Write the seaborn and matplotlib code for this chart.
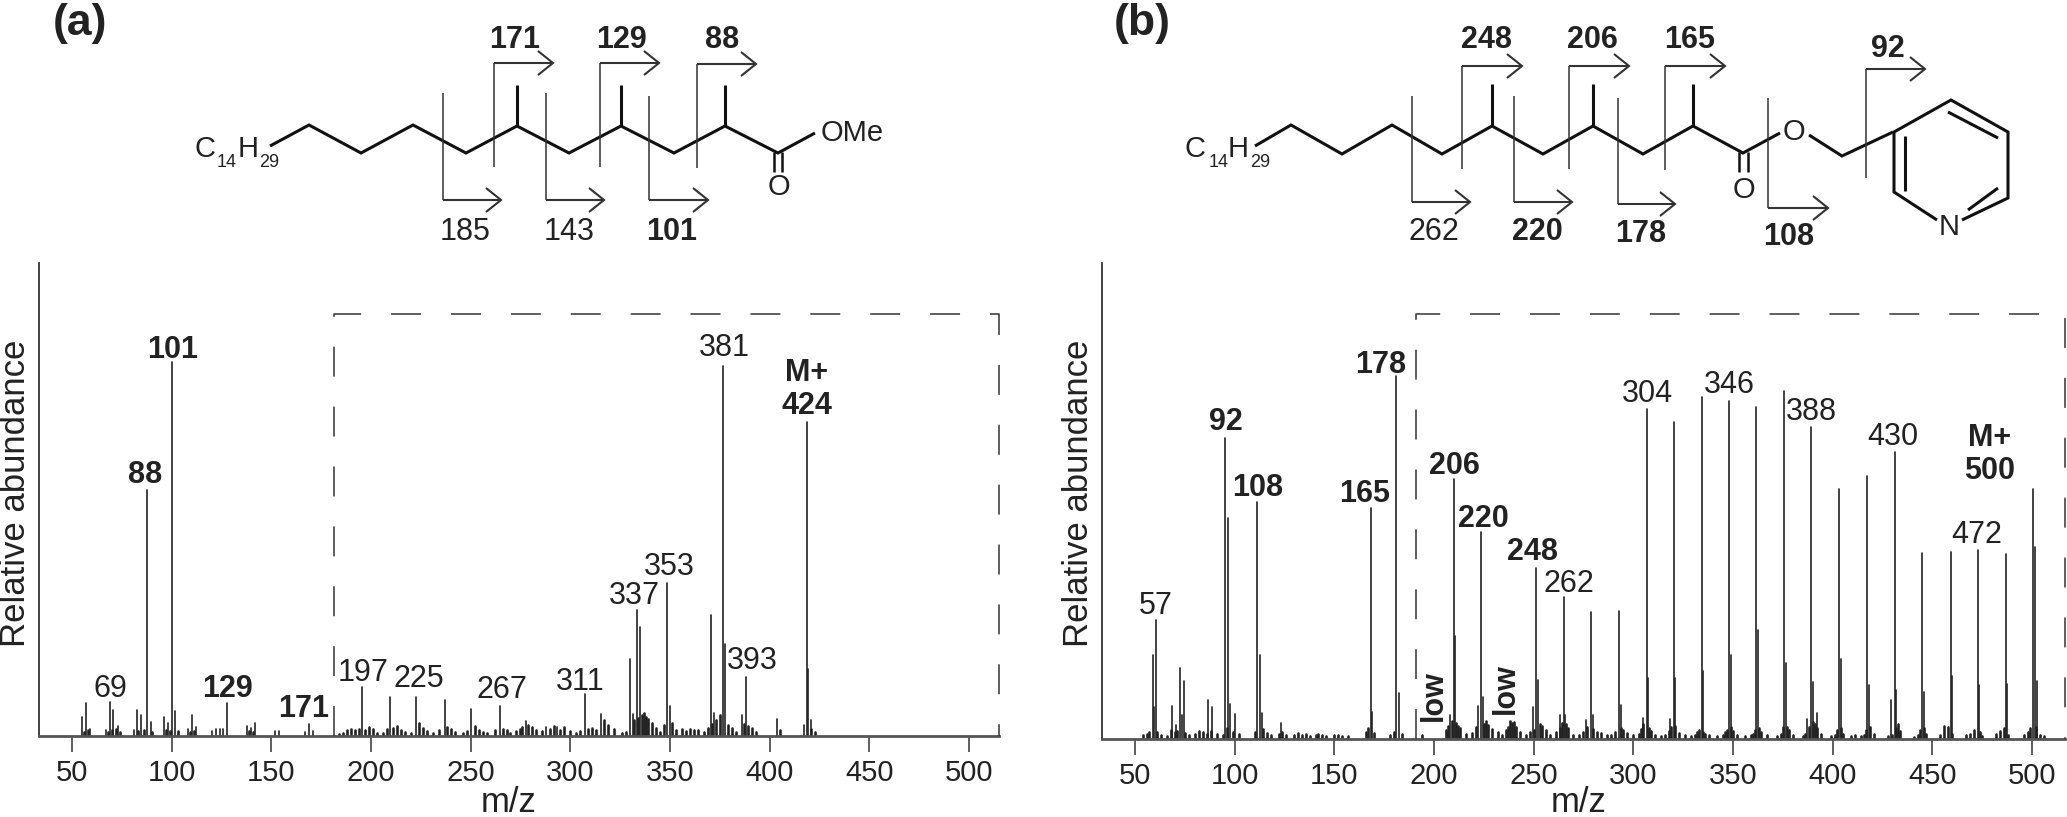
import pandas as pd
import matplotlib.pyplot as plt
import seaborn as sns

# ==================== data (a) ====================
TICKS = [50, 100, 150, 200, 250, 300, 350, 400, 450, 500]

a_mz = [55.2, 57.1, 59, 67.3, 69, 70.8, 73, 81, 82.7, 84.6, 87.8, 89.7, 96.4, 98.4, 100.2, 101.6,
        108.3, 110.2, 112, 120.4, 122.3, 124.2, 125.9, 127.8, 137.7, 139.6, 141.9, 151.8, 153.7,
        167, 169, 170.7, 195.6, 209.7, 222.8, 236.9, 250.4, 264.5, 277.9, 288, 293.3, 307.6, 315.3,
        330, 331.3, 333.3, 335.2, 348.3, 349.9, 370.4, 372.3, 376.4, 377.4, 386, 388, 403.7, 417.4,
        418.7, 419.3, 420.6]
a_abund = [5.2, 8.7, 2, 1.6, 9.2, 7, 2.7, 1.6, 7, 5.6, 65.8, 3.8, 5.2, 3.4, 100, 6.7,
           2, 5.6, 2.3, 1.4, 1.8, 2, 2, 8.9, 2.7, 2.2, 3.4, 1.3, 1.3,
           1.2, 3.1, 1.4, 13.2, 10.5, 10.5, 9.6, 7.1, 8.1, 4.1, 2.5, 2.5, 11.2, 5.9,
           20.5, 5.9, 33.7, 29.2, 40.9, 8, 32.4, 6.2, 98.9, 24.6, 5.6, 15.7, 4.5, 2.9,
           84, 17.8, 4.3]
a_noise_mz = [56, 58, 68, 70, 72, 74, 83, 86, 90, 97, 99, 103, 109, 111, 139, 141,
              184, 186, 188, 190, 192, 194, 197, 199, 201, 203, 206, 208, 211, 213, 215, 217,
              220, 224, 226, 228, 231, 234, 238, 240, 242, 246, 248, 252, 254, 256, 258, 262, 266,
              268, 270, 273, 275, 276, 279, 281, 283, 286, 290, 292, 295, 297, 300, 303, 305, 309, 311,
              313, 317, 319, 322, 326, 328, 332, 334, 336, 337, 338, 339, 341, 343, 345, 347, 351, 353,
              356, 358, 360, 362, 364, 367, 369, 371, 373, 375, 379, 381, 383, 387, 389, 391, 393, 405, 421, 423]
a_noise_abund = [1.2, 1.5, 1.2, 1.5, 1.8, 1.2, 1.4, 1.5, 1.2, 1.6, 1.4, 1.3, 1.2, 1.4, 1.3, 1.2,
                 0.6, 0.8, 1.5, 1.8, 1.5, 2, 1.7, 2.4, 1.8, 0.8, 0.7, 1.8, 2.2, 2.6, 1.6, 1.2,
                 0.8, 3.4, 2.2, 1.3, 0.9, 1.6, 2.3, 1.8, 1.2, 0.8, 1.4, 2.6, 1.7, 1.2, 0.7, 1.6, 2,
                 1.6, 0.8, 1.3, 1.8, 2.3, 3, 2.5, 1.5, 1.4, 1.9, 2.6, 1.6, 2.5, 1.3, 0.9, 1.4, 1.8, 2.2,
                 1.5, 4.2, 3, 1.8, 0.8, 1.2, 4.2, 4.8, 5.5, 6.2, 5.2, 4.6, 3.6, 2.2, 1.2, 3, 3.4, 1.6,
                 2, 1.4, 1.8, 1.6, 1.5, 1.2, 2.2, 3.3, 4.4, 5.6, 3, 2.2, 1.2, 3.1, 2.8, 2.2, 1.2, 1.5, 1.8, 1.2]

# ==================== data (b) ====================
b_mz = [58.8, 59.7, 60.7, 68.7, 70.6, 72.8, 73.8, 74.4, 86.6, 88.5, 95.2, 96.5, 97.5, 100.4,
        111.2, 112.5, 113.5, 123.4, 168.5, 168.9, 181, 182.3, 208.2, 209.8, 210.4, 222.3, 223.6, 224.5,
        249.5, 251.4, 252.4, 263, 265.2, 265.9, 276.5, 278.9, 279.6, 293, 293.6, 305, 306.8, 307.4,
        318.5, 320.5, 321.1, 334.3, 334.9, 348, 349, 361.8, 362.5, 375.6, 376.5, 387, 389.3, 390.3,
        392, 403.4, 404.4, 417.2, 418.1, 429.3, 431.2, 431.9, 445, 446, 459.4, 459.9, 473, 473.6,
        486.9, 487.4, 500.7, 501.6, 502.5]
b_abund = [23, 8.8, 32.9, 9, 3.8, 19.6, 6.5, 15.9, 10.8, 8.8, 82.9, 61, 9.7, 7,
           65.3, 23, 7.2, 4.5, 63.5, 7.3, 100, 12.7, 6.5, 71.6, 28.3, 9, 57.1, 11.6,
           8.8, 47, 16.2, 6.5, 39, 6.5, 5.2, 35, 6.5, 35.3, 9.3, 5.8, 91, 16.9,
           5.5, 87.4, 16.9, 94.3, 18.7, 93.2, 23, 91.5, 30, 95.8, 20.8, 5.4, 86, 15.7,
           7.2, 68.9, 22, 72.5, 14.8, 10.7, 79, 13.4, 51.2, 13, 51.6, 17.3, 52, 14.8,
           51, 15.2, 68.9, 53, 16]
b_noise_mz = [54, 56, 57, 61, 63, 66, 68, 70, 71, 75, 77, 80, 82, 84, 86, 88, 91, 94, 96, 99, 102,
              110, 114, 116, 118, 122, 124, 126, 130, 132, 134, 136, 138, 141, 142, 144, 146, 150, 152, 154, 157,
              166, 167, 170, 178, 180, 184, 194, 206, 207, 209, 211, 212, 213, 216, 219, 221, 225, 226, 227, 229,
              232, 234, 236, 237, 238, 239, 240, 241, 243, 246, 248, 250, 253, 254, 256, 258, 261, 263, 264, 266, 267,
              270, 273, 275, 277, 280, 282, 284, 287, 289, 291, 294, 295, 297, 300, 303, 304, 305, 308, 309, 311,
              314, 316, 318, 319, 321, 323, 326, 329, 331, 332, 333, 335, 336, 338, 342, 345, 346, 347, 349, 350,
              352, 356, 359, 360, 361, 363, 364, 367, 372, 374, 375, 377, 378, 380, 385, 386, 388, 390, 391, 392,
              394, 399, 401, 402, 404, 405, 409, 411, 414, 416, 417, 419, 421, 428, 430, 432, 433, 434, 441, 443,
              444, 446, 447, 454, 456, 458, 460, 467, 469, 471, 474, 475, 482, 484, 486, 488, 496, 498, 499, 502, 504, 506]
b_noise_abund = [1, 1.3, 2, 2, 1, 0.8, 2.5, 1.8, 2.3, 1.6, 1.2, 1.3, 2.2, 1.8, 1.4, 2.2, 1.5, 1.2, 3, 2, 1.4,
                 1.8, 2.8, 1.6, 1.2, 1.5, 1.8, 1.2, 1, 1.6, 1.2, 1.4, 0.9, 1, 1.4, 1.2, 0.8, 1, 1.2, 0.9, 0.8,
                 2, 3, 1.6, 1.2, 2, 1.5, 1, 2.5, 3.5, 5, 4.5, 3.6, 3, 1.5, 1.6, 3.4, 4.2, 5, 3.8, 2.8,
                 1.8, 1.2, 2.4, 3.2, 5, 4.3, 4.6, 3.2, 2, 1.2, 1.8, 2.5, 4.2, 3.5, 2.5, 1.2, 1.8, 3, 4.5, 4.2, 3,
                 1.2, 1.2, 1.8, 3.2, 2.8, 2, 1.6, 1.2, 1, 2, 3, 2.5, 1.6, 1, 1.5, 2.8, 4.2, 3, 2.2, 1.2,
                 0.8, 1, 2.2, 3.4, 3.6, 1.6, 1.2, 0.8, 1.2, 2, 2.6, 2, 1.5, 1, 0.7, 1.2, 2, 2.6, 3.2, 2.2,
                 1.2, 0.7, 1, 1.5, 2.4, 3, 2, 1, 0.7, 1.5, 3.4, 3.2, 2.5, 1, 0.7, 1.5, 3.4, 4.6, 4.2, 3,
                 1.4, 0.7, 1.2, 2.6, 3, 1.5, 0.7, 1, 0.8, 1.2, 2.5, 3.2, 1.4, 0.7, 1.2, 3, 4, 2.2, 0.6, 1,
                 2.6, 3, 1.5, 1.2, 3.6, 3.2, 1.4, 1, 1.5, 2.4, 2, 0.8, 1.4, 2.2, 3, 1.2, 1.2, 1.8, 3, 3.2, 1.2, 0.7]

# ==================== style ====================
INK = "#222222"
sns.set_theme(style="white")
plt.rcParams['font.family'] = ['Liberation Sans', 'DejaVu Sans']

W, H = 2067, 817
fig = plt.figure(figsize=(W / 100, H / 100), dpi=100)


def stems(mz, abund):
    rows = []
    for i, (m, h) in enumerate(zip(mz, abund)):
        rows.append({"peak": i, "mz": m, "abundance": 0.0})
        rows.append({"peak": i, "mz": m, "abundance": h})
    return pd.DataFrame(rows)


def spectrum(left, right, bottom, top, xlim, ytop, mz, abund, noise_mz, noise_abund, label_x):
    ax = fig.add_axes([left / W, 1 - bottom / H, (right - left) / W, (bottom - top) / H])
    sns.lineplot(data=stems(mz, abund), x="mz", y="abundance", units="peak", estimator=None,
                 sort=False, color=INK, lw=1.2, legend=False, ax=ax)
    sns.lineplot(data=stems(noise_mz, noise_abund), x="mz", y="abundance", units="peak", estimator=None,
                 sort=False, color=INK, lw=1.9, legend=False, ax=ax)
    ax.set_xlim(*xlim)
    ax.set_ylim(0, ytop)
    ax.set_xticks(TICKS)
    ax.set_yticks([])
    ax.tick_params(axis='x', length=11.5, width=1.1, color="#333333", labelsize=21, labelcolor=INK,
                   pad=5, bottom=True)
    sns.despine(ax=ax)
    ax.spines['left'].set_color("#333333")
    ax.spines['left'].set_linewidth(1.3)
    ax.spines['bottom'].set_color("#555555")
    ax.spines['bottom'].set_linewidth(2)
    ax.set_xlabel("m/z", fontsize=25, color=INK)
    ax.xaxis.set_label_coords((label_x - left) / (right - left), -(802 - bottom) / (bottom - top))
    ax.xaxis.label.set_va('center')
    ax.set_ylabel("Relative abundance", fontsize=25, color=INK, va='center')
    ax.yaxis.set_label_coords(-23 / (right - left), (bottom - 493) / (bottom - top))
    ax.patch.set_alpha(0)
    return ax


spectrum(39, 999, 736, 263, (33.44, 515.1), 126.5, a_mz, a_abund, a_noise_mz, a_noise_abund, 509)
spectrum(1102, 2065, 739, 263, (33.44, 516.6), 131.1, b_mz, b_abund, b_noise_mz, b_noise_abund, 1579)

# ==================== overlay in pixels: structures and labels ====================
ov = fig.add_axes([0, 0, 1, 1], zorder=5)
ov.set_xlim(0, W)
ov.set_ylim(H, 0)
ov.axis('off')


def bonds(xs, ys, lw=2.2, color="#111111"):
    ov.plot(xs, ys, color=color, lw=lw, solid_joinstyle='miter', solid_capstyle='butt')


def txt(x, y, s, size=22, bold=False, **kw):
    ov.text(x, y + 3, s, fontsize=size, fontweight='bold' if bold else 'normal', color=INK,
            ha='center', va='center', **kw)


def frag_up(x, y, end, low):
    bonds([x, x], [low, y], lw=1.1, color="#333333")
    bonds([x, end], [y, y], lw=1.5, color="#333333")
    bonds([end - 15, end, end - 15], [y - 12, y, y + 12], lw=1.5, color="#333333")


def frag_down(x, top, y, end):
    bonds([x, x], [top, y], lw=1.1, color="#333333")
    bonds([x, end], [y, y], lw=1.5, color="#333333")
    bonds([end - 15, end, end - 15], [y - 12, y, y + 12], lw=1.5, color="#333333")


def formula(xs, base):
    for (x, s, sz, dy) in zip(xs, ["C", "14", "H", "29"], [21, 13, 21, 13], [0, 10, 0, 10]):
        ov.text(x, base + dy, s, fontsize=sz, color=INK, ha='left', va='baseline')


def box(left, right, top, bottom):
    ov.plot([left, left, right, right], [bottom, top, top, bottom], color="#333333", lw=1.1,
            linestyle=(0, (19.6, 19.6)))


# (a) structure
txt(80, 20, "(a)", size=32, bold=True)
formula([194, 217, 238, 259], 157)
bonds([270, 309, 361, 413, 466, 517, 569, 621, 674, 725, 778, 815],
      [146, 125, 153, 125, 153, 126, 153, 126, 153, 126, 153, 133])
for x in [517, 621, 725]:
    bonds([x, x], [126, 85])
bonds([774, 774], [152, 172], lw=1.8)
bonds([782, 782], [152, 172], lw=1.8)
txt(779, 184, "O", size=21)
txt(852, 130, "OMe", size=21)
frag_up(494, 63, 553, 167)
frag_up(600, 63, 659, 167)
frag_up(697, 64, 756, 168)
frag_down(443, 93, 200, 501)
frag_down(546, 93, 200, 604)
frag_down(649, 96, 200, 708)
for x, y, s, b in [(515, 37, "171", True), (622, 37, "129", True), (722, 37, "88", True),
                   (465, 229, "185", False), (569, 229, "143", False), (672, 229, "101", True)]:
    txt(x, y, s, bold=b)

# (b) structure
txt(1142, 20, "(b)", size=32, bold=True)
formula([1185, 1209, 1228, 1250], 157)
bonds([1255, 1291, 1342, 1392, 1442, 1492, 1543, 1593, 1643, 1693, 1743, 1780],
      [146, 125, 154, 125, 154, 126, 154, 126, 154, 126, 153, 133])
bonds([1809, 1842, 1893], [135, 156, 132])
for x in [1492, 1593, 1693]:
    bonds([x, x], [126, 84])
bonds([1739, 1739], [152, 172], lw=1.8)
bonds([1748, 1748], [152, 172], lw=1.8)
txt(1744, 187, "O", size=21)
txt(1794, 129, "O", size=21)
bonds([1937, 1894, 1894, 1951, 2008, 2008, 1962], [220, 192, 132, 100, 132, 198, 220])
bonds([1948, 1998], [112, 138])
bonds([1905, 1905], [136, 191])
bonds([1998, 1968], [188, 210])
txt(1949, 224, "N", size=21)
frag_up(1462, 66, 1522, 169)
frag_up(1569, 66, 1629, 169)
frag_up(1665, 66, 1725, 170)
frag_up(1866, 69, 1925, 178)
frag_down(1412, 96, 202, 1470)
frag_down(1514, 96, 202, 1572)
frag_down(1618, 98, 204, 1675)
frag_down(1768, 98, 208, 1828)
for x, y, s, b in [(1486, 37, "248", True), (1592, 37, "206", True), (1690, 37, "165", True),
                   (1888, 46, "92", True), (1434, 229, "262", False), (1537, 229, "220", True),
                   (1641, 231, "178", True), (1789, 234, "108", True)]:
    txt(x, y, s, bold=b)

# peak labels
for x, y, s, b in [(110, 686, "69", False), (228, 686, "129", True), (304, 706, "171", True),
                   (363, 670, "197", False), (419, 676, "225", False), (502, 687, "267", False),
                   (580, 679, "311", False), (752, 658, "393", False), (634, 593, "337", False),
                   (669, 564, "353", False), (145, 472, "88", True), (173, 347, "101", True),
                   (724, 345, "381", False), (807, 370, "M+", True), (807, 403, "424", True),
                   (1156, 603, "57", False), (1226, 419, "92", True), (1258, 485, "108", True),
                   (1365, 491, "165", True), (1381, 362, "178", True), (1454, 463, "206", True),
                   (1483, 516, "220", True), (1533, 549, "248", True), (1569, 581, "262", False),
                   (1647, 391, "304", False), (1729, 382, "346", False), (1811, 409, "388", False),
                   (1893, 434, "430", False), (1977, 532, "472", False), (1990, 435, "M+", True),
                   (1990, 468, "500", True)]:
    txt(x, y, s, bold=b)
txt(1434, 693, "low", bold=True, rotation=90)
txt(1506, 686, "low", bold=True, rotation=90)

box(334, 999, 314, 736)
box(1416, 2065, 314, 739)

fig.savefig("out.png", dpi=100)
